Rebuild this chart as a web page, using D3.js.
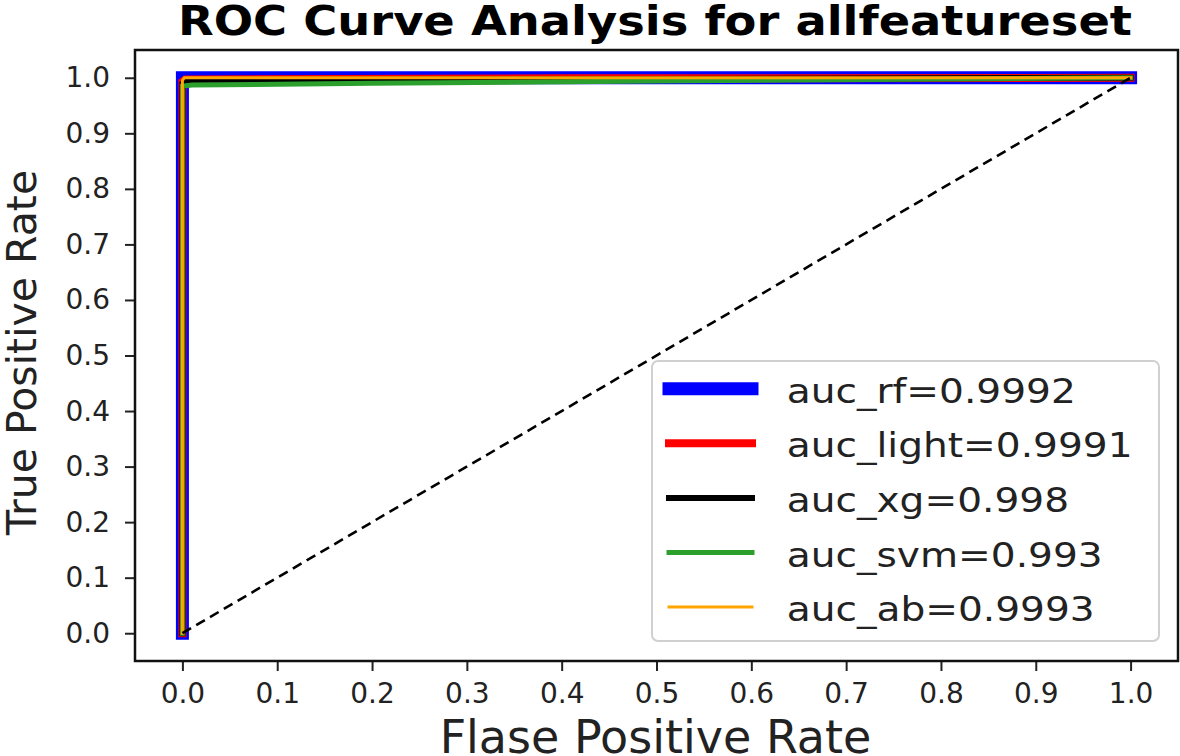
<!DOCTYPE html>
<html>
<head>
<meta charset="utf-8">
<script src="https://cdn.jsdelivr.net/npm/d3@7"></script>
<style>
  body { margin: 0; background: #fff; }
  text { font-family: "DejaVu Sans", sans-serif; }
</style>
</head>
<body>
<div id="svg-container"></div>
<script>
// data
const models = ["rf", "light", "xg", "svm", "ab"];
const aucs = ["0.9992", "0.9991", "0.998", "0.993", "0.9993"];
const colors = ["blue", "red", "black", "#2ca02c", "orange"];
const widths = [13, 8, 6, 5, 3];

const fprRf = [0, 0, 1];
const tprRf = [0, 1, 1];
const fprLight = [0, 0, 0.003, 0.4, 1];
const tprLight = [0, 0.993, 0.997, 0.999, 1];
const fprXg = [0, 0, 0.004, 0.5, 1];
const tprXg = [0, 0.99, 0.996, 0.998, 1];
const fprSvm = [0, 0, 0.01, 0.2, 0.5, 0.8, 1];
const tprSvm = [0, 0.985, 0.987, 0.99, 0.994, 0.998, 1];
const fprAb = [0, 0, 0.002, 1];
const tprAb = [0, 0.995, 1, 1];

const chanceFpr = [0, 1];
const chanceTpr = [0, 1];

const xTicks = [0, 0.1, 0.2, 0.3, 0.4, 0.5, 0.6, 0.7, 0.8, 0.9, 1.0];
const yTicks = [0, 0.1, 0.2, 0.3, 0.4, 0.5, 0.6, 0.7, 0.8, 0.9, 1.0];

const curves = [
    [fprRf, tprRf], [fprLight, tprLight], [fprXg, tprXg], [fprSvm, tprSvm], [fprAb, tprAb]
];

const svg = d3.select("#svg-container")
    .append("svg")
    .attr("width", 1180)
    .attr("height", 756);

const mLeft = 135, mRight = 1178, mTop = 50, mBottom = 661;

const x = d3.scaleLinear().domain([-0.05, 1.05]).range([mLeft, mRight]);
const y = d3.scaleLinear().domain([-0.05, 1.05]).range([mBottom, mTop]);

// axes
const xAxis = svg.append("g")
    .attr("transform", `translate(0,${mBottom})`)
    .call(d3.axisBottom(x).tickValues(xTicks).tickFormat(d3.format(".1f"))
        .tickSize(10).tickPadding(12).tickSizeOuter(0));
const yAxis = svg.append("g")
    .attr("transform", `translate(${mLeft},0)`)
    .call(d3.axisLeft(y).tickValues(yTicks).tickFormat(d3.format(".1f"))
        .tickSize(10).tickPadding(15).tickSizeOuter(0));

[xAxis, yAxis].forEach(g => {
    g.select(".domain").remove();
    g.selectAll(".tick line").attr("stroke", "#222").attr("stroke-width", 2);
    g.selectAll(".tick text")
        .attr("fill", "#222")
        .style("font-size", "28px")
        .style("font-family", "DejaVu Sans");
});

// curves
const line = d3.line()
    .x(d => x(d[0]))
    .y(d => y(d[1]));

curves.forEach((c, i) => {
    const pts = c[0].map((f, j) => [f, c[1][j]]);
    svg.append("path")
        .attr("d", line(pts))
        .attr("fill", "none")
        .attr("stroke", colors[i])
        .attr("stroke-width", widths[i])
        .attr("stroke-linecap", "square")
        .attr("stroke-linejoin", "miter");
});

// chance line
svg.append("path")
    .attr("d", line(chanceFpr.map((f, j) => [f, chanceTpr[j]])))
    .attr("fill", "none")
    .attr("stroke", "black")
    .attr("stroke-width", 2.6)
    .attr("stroke-dasharray", "10,6");

// frame
svg.append("rect")
    .attr("x", mLeft)
    .attr("y", mTop)
    .attr("width", mRight - mLeft)
    .attr("height", mBottom - mTop)
    .attr("fill", "none")
    .attr("stroke", "#111")
    .attr("stroke-width", 2.5);

// legend
const legend = svg.append("g");
legend.append("rect")
    .attr("x", 652)
    .attr("y", 361)
    .attr("width", 507)
    .attr("height", 280)
    .attr("rx", 6)
    .attr("fill", "white")
    .attr("fill-opacity", 0.8)
    .attr("stroke", "#d0d0d0")
    .attr("stroke-width", 2);

models.forEach((m, i) => {
    const ly = 388.7 + i * 54.6;
    legend.append("line")
        .attr("x1", 669).attr("x2", 752)
        .attr("y1", ly).attr("y2", ly)
        .attr("stroke", colors[i])
        .attr("stroke-width", widths[i])
        .attr("stroke-linecap", "square");
    legend.append("text")
        .attr("transform", `translate(786.7,${ly + 14}) scale(1.15,1)`)
        .attr("fill", "#222")
        .style("font-size", "34px")
        .text(`auc_${m}=${aucs[i]}`);
});

// title and labels
svg.append("text")
    .attr("x", 655)
    .attr("y", 35)
    .attr("text-anchor", "middle")
    .attr("textLength", 954)
    .attr("lengthAdjust", "spacingAndGlyphs")
    .style("font-size", "41px")
    .style("font-weight", "bold")
    .text("ROC Curve Analysis for allfeatureset");

svg.append("text")
    .attr("x", 655.5)
    .attr("y", 753)
    .attr("text-anchor", "middle")
    .attr("fill", "#222")
    .style("font-size", "46px")
    .text("Flase Positive Rate");

svg.append("text")
    .attr("transform", "translate(36,352.5) rotate(-90)")
    .attr("text-anchor", "middle")
    .attr("fill", "#222")
    .style("font-size", "41px")
    .text("True Positive Rate");
</script>
</body>
</html>
